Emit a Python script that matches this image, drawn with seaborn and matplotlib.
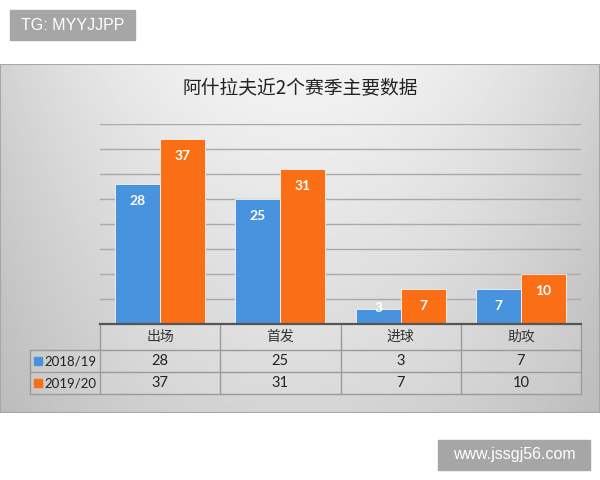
import matplotlib
matplotlib.use('Agg')
import matplotlib.pyplot as plt
import numpy as np
import pandas as pd
import seaborn as sns
from matplotlib.patches import Rectangle
from matplotlib.transforms import blended_transform_factory

# data
categories = ['出场', '首发', '进球', '助攻']
seasons = ['2018/19', '2019/20']
vals_1819 = [28, 25, 3, 7]
vals_1920 = [37, 31, 7, 10]
title = '阿什拉夫近2个赛季主要数据'

blue = '#4893DE'
orange = '#FA6E16'

df = pd.DataFrame({
    'cat': categories * 2,
    'season': [seasons[0]] * 4 + [seasons[1]] * 4,
    'val': vals_1819 + vals_1920,
})

sns.set_style('white')
plt.rcParams['font.family'] = ['Noto Sans CJK SC', 'DejaVu Sans']
num_font = ['Lato', 'DejaVu Sans']

fig = plt.figure(figsize=(6, 4.8), dpi=100)
fig.patch.set_facecolor('white')

# gradient panel behind the chart
bg = fig.add_axes([0, 67 / 480, 1, 349 / 480], zorder=0)
u = np.linspace(-1, 1, 300)[None, :]
v = np.linspace(0, 1, 200)[:, None]
shade = 0.955 - 0.13 * u ** 2 - 0.12 * v + 0.03 * v * u ** 2
bg.imshow(shade, cmap='gray', vmin=0, vmax=1, aspect='auto', extent=[0, 1, 0, 1])
bg.add_patch(Rectangle((0, 0), 1, 1, fill=False, ec='#a8a8a8', lw=1.5,
                       transform=bg.transAxes))
bg.set_axis_off()

ax = fig.add_axes([100 / 600, 156 / 480, 481 / 600, 200 / 480], zorder=2)
ax.patch.set_alpha(0)
sns.barplot(data=df, x='cat', y='val', hue='season', order=categories,
            palette=[blue, orange], saturation=1, width=0.75, ax=ax,
            legend=False, edgecolor='#f4f4f4', linewidth=0.6, zorder=3)
ax.set_ylim(0, 40)
ax.set_xlim(-0.5, 3.5)
ax.set_yticks(np.arange(0, 41, 5))
ax.yaxis.grid(True, color='#a9a9a9', lw=1)
ax.set_axisbelow(True)
ax.set_xticks([])
ax.set_yticklabels([])
ax.tick_params(left=False, bottom=False)
ax.set_xlabel('')
ax.set_ylabel('')
for s in ['top', 'right', 'left']:
    ax.spines[s].set_visible(False)
ax.spines['bottom'].set_color('#555555')
ax.spines['bottom'].set_linewidth(1.6)
ax.spines['bottom'].set_zorder(5)

# value labels inside bars
for cont in ax.containers:
    for p in cont:
        h = p.get_height()
        y = h - 3.4 if h >= 6 else h + 0.2
        ax.text(p.get_x() + p.get_width() / 2, y, f'{int(h)}', ha='center',
                va='center', color='white', fontsize=10, fontweight='bold',
                family=num_font, zorder=6)

# data table under the bars (x in category units, y in axes units)
tr = blended_transform_factory(ax.transData, ax.transAxes)
lab_left = -0.5 - 70 / 120.25
rows_y = [0, -26 / 200, -48 / 200, -70 / 200]
line_kw = dict(color='#9a9a9a', lw=1, transform=tr, clip_on=False, zorder=4)
ax.add_patch(Rectangle((-0.5, rows_y[3]), 4, -rows_y[3], transform=tr,
                       color='white', alpha=0.12, clip_on=False, zorder=1))
ax.add_patch(Rectangle((lab_left, rows_y[3]), -0.5 - lab_left, rows_y[1] - rows_y[3],
                       transform=tr, color='white', alpha=0.12, clip_on=False, zorder=1))
for yv in rows_y[1:]:
    ax.plot([lab_left, 3.5], [yv, yv], **line_kw)
ax.plot([lab_left, lab_left], [rows_y[1], rows_y[3]], **line_kw)
for xv in np.arange(-0.5, 4, 1):
    ax.plot([xv, xv], [0, rows_y[3]], **line_kw)

for i, cat in enumerate(categories):
    ax.text(i, (rows_y[0] + rows_y[1]) / 2, cat, transform=tr, ha='center',
            va='center', fontsize=10, color='#333333', clip_on=False)
for r, (name, col, vals) in enumerate(zip(seasons, [blue, orange],
                                          [vals_1819, vals_1920])):
    yc = (rows_y[r + 1] + rows_y[r + 2]) / 2
    for i, val in enumerate(vals):
        ax.text(i, yc, str(val), transform=tr, ha='center', va='center',
                fontsize=10.5, family=num_font, color='#222222', clip_on=False)
    ax.add_patch(Rectangle((lab_left + 4 / 120.25, yc - 0.018), 8 / 120.25, 0.036,
                           transform=tr, color=col, clip_on=False, zorder=6))
    ax.text(lab_left + 14 / 120.25, yc, name, transform=tr, va='center',
            ha='left', fontsize=9.5, family=num_font, color='#222222',
            clip_on=False, zorder=6)

fig.text(0.5, (480 - 89) / 480, title, ha='center', va='center',
         fontsize=13.5, fontweight='medium', color='#222222', zorder=3)

# watermark boxes
for (x0, y0, w, h, txt) in [(10, 10, 125, 30, 'TG: MYYJJPP'),
                            (438, 440, 152, 30, 'www.jssgj56.com')]:
    fig.patches.append(Rectangle((x0 / 600, 1 - (y0 + h) / 480), w / 600, h / 480,
                                 transform=fig.transFigure, color='#a6a6a6',
                                 zorder=10))
    fig.text((x0 + w / 2) / 600, 1 - (y0 + h / 2) / 480, txt, ha='center',
             va='center', color='white', fontsize=11.5,
             family=['Liberation Sans', 'DejaVu Sans'], zorder=11)

fig.savefig('out.png', dpi=100)
